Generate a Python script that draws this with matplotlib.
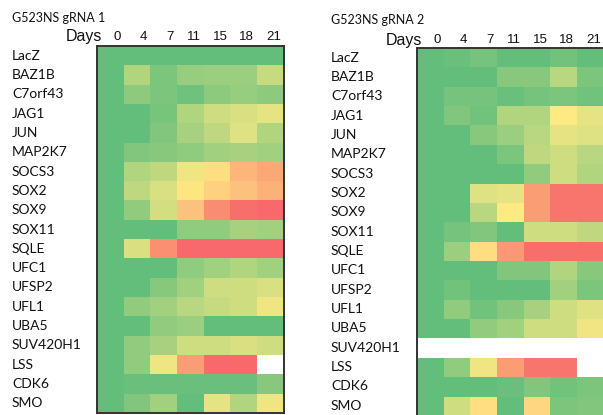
import numpy as np
import matplotlib.pyplot as plt
from matplotlib.colors import LinearSegmentedColormap

# genes and time points
genes = ["LacZ", "BAZ1B", "C7orf43", "JAG1", "JUN", "MAP2K7", "SOCS3", "SOX2",
         "SOX9", "SOX11", "SQLE", "UFC1", "UFSP2", "UFL1", "UBA5", "SUV420H1",
         "LSS", "CDK6", "SMO"]
days = ["0", "4", "7", "11", "15", "18", "21"]

nan = np.nan
# depletion score, 0 = unchanged (green) .. 1 = strongly depleted (red)
grna1 = [
    [0, 0.00, 0.00, 0.00, 0.00, 0.00, 0.00],
    [0, 0.25, 0.08, 0.17, 0.18, 0.18, 0.32],
    [0, 0.14, 0.08, 0.04, 0.14, 0.17, 0.14],
    [0, 0.00, 0.07, 0.25, 0.35, 0.38, 0.42],
    [0, 0.00, 0.10, 0.22, 0.30, 0.40, 0.25],
    [0, 0.10, 0.12, 0.15, 0.20, 0.22, 0.20],
    [0, 0.25, 0.30, 0.45, 0.55, 0.70, 0.76],
    [0, 0.30, 0.38, 0.52, 0.60, 0.66, 0.72],
    [0, 0.15, 0.36, 0.66, 0.86, 0.98, 1.00],
    [0, 0.00, 0.00, 0.15, 0.15, 0.22, 0.20],
    [0, 0.38, 0.85, 1.00, 1.00, 1.00, 1.00],
    [0, 0.00, 0.00, 0.15, 0.20, 0.25, 0.20],
    [0, 0.00, 0.12, 0.20, 0.35, 0.35, 0.38],
    [0, 0.15, 0.20, 0.28, 0.32, 0.35, 0.45],
    [0, 0.00, 0.15, 0.18, 0.00, 0.00, 0.00],
    [0, 0.15, 0.22, 0.35, 0.35, 0.38, 0.35],
    [0, 0.15, 0.45, 0.80, 1.00, 1.00, nan],
    [0, 0.02, 0.02, 0.02, 0.02, 0.02, 0.12],
    [0, 0.10, 0.20, 0.00, 0.42, 0.25, 0.45],
]
grna2 = [
    [0, 0.02, 0.06, 0.00, 0.00, 0.05, 0.00],
    [0, 0.00, 0.00, 0.12, 0.12, 0.28, 0.08],
    [0, 0.06, 0.06, 0.02, 0.06, 0.08, 0.05],
    [0, 0.10, 0.05, 0.25, 0.25, 0.50, 0.42],
    [0, 0.00, 0.12, 0.18, 0.28, 0.42, 0.40],
    [0, 0.00, 0.00, 0.08, 0.30, 0.35, 0.28],
    [0, 0.00, 0.00, 0.00, 0.15, 0.35, 0.25],
    [0, 0.00, 0.40, 0.42, 0.80, 0.95, 0.95],
    [0, 0.00, 0.28, 0.50, 0.80, 0.95, 0.95],
    [0, 0.06, 0.10, 0.00, 0.35, 0.35, 0.30],
    [0, 0.18, 0.55, 0.82, 0.98, 0.98, 0.98],
    [0, 0.00, 0.00, 0.10, 0.10, 0.25, 0.12],
    [0, 0.05, 0.00, 0.00, 0.00, 0.20, 0.08],
    [0, 0.15, 0.05, 0.12, 0.22, 0.35, 0.40],
    [0, 0.00, 0.15, 0.20, 0.35, 0.35, 0.45],
    [nan, nan, nan, nan, nan, nan, nan],
    [0, 0.15, 0.45, 0.80, 0.95, 0.95, nan],
    [0, 0.00, 0.00, 0.02, 0.10, 0.05, 0.08],
    [0, 0.35, 0.55, 0.00, 0.58, 0.08, 0.10],
]

# excel style green-yellow-red scale
cmap = LinearSegmentedColormap.from_list(
    "gyr", ["#63BE7B", "#FFEB84", "#F8696B"])
cmap.set_bad("white")

W, H = 603, 415
fig = plt.figure(figsize=(W / 100, H / 100), dpi=100)

panels = [
    ("G523NS gRNA 1", grna1, 97, 46, 413, 12, 18, 37),
    ("G523NS gRNA 2", grna2, 417, 48, 415.5, 331, 20, 40),
]
lab_font = "Lato"

for title, vals, x0, ytop, ybot, xlab, ytitle, yday in panels:
    cw = 26.7
    ax = fig.add_axes([x0 / W, (H - ybot) / H, 7 * cw / W, (ybot - ytop) / H])
    data = np.ma.masked_invalid(np.array(vals, dtype=float))
    ax.imshow(data, cmap=cmap, vmin=0, vmax=1, aspect="auto",
              interpolation="nearest")
    ax.set_xticks([])
    ax.set_yticks([])
    for s in ax.spines.values():
        s.set_color("#333333")
        s.set_linewidth(1.4)

    # row labels
    for i, g in enumerate(genes):
        yc = ytop + (i + 0.5) * (ybot - ytop) / len(genes)
        fig.text(xlab / W, 1 - yc / H, g, ha="left", va="center",
                 fontsize=10, family=lab_font, color="#111111")

    # header
    fig.text(xlab / W, 1 - ytitle / H, title, ha="left", va="center",
             fontsize=9, family=lab_font, color="#111111")
    fig.text((x0 + 5) / W, 1 - yday / H, "Days", ha="right", va="center",
             fontsize=11.5, family="Liberation Sans", color="#111111")
    for j, d in enumerate(days):
        fig.text((x0 + (j + 1) * cw - 3) / W, 1 - yday / H, d,
                 ha="right", va="center", fontsize=9.5,
                 family="Liberation Sans", color="#111111")

fig.savefig("out.png", dpi=100)
